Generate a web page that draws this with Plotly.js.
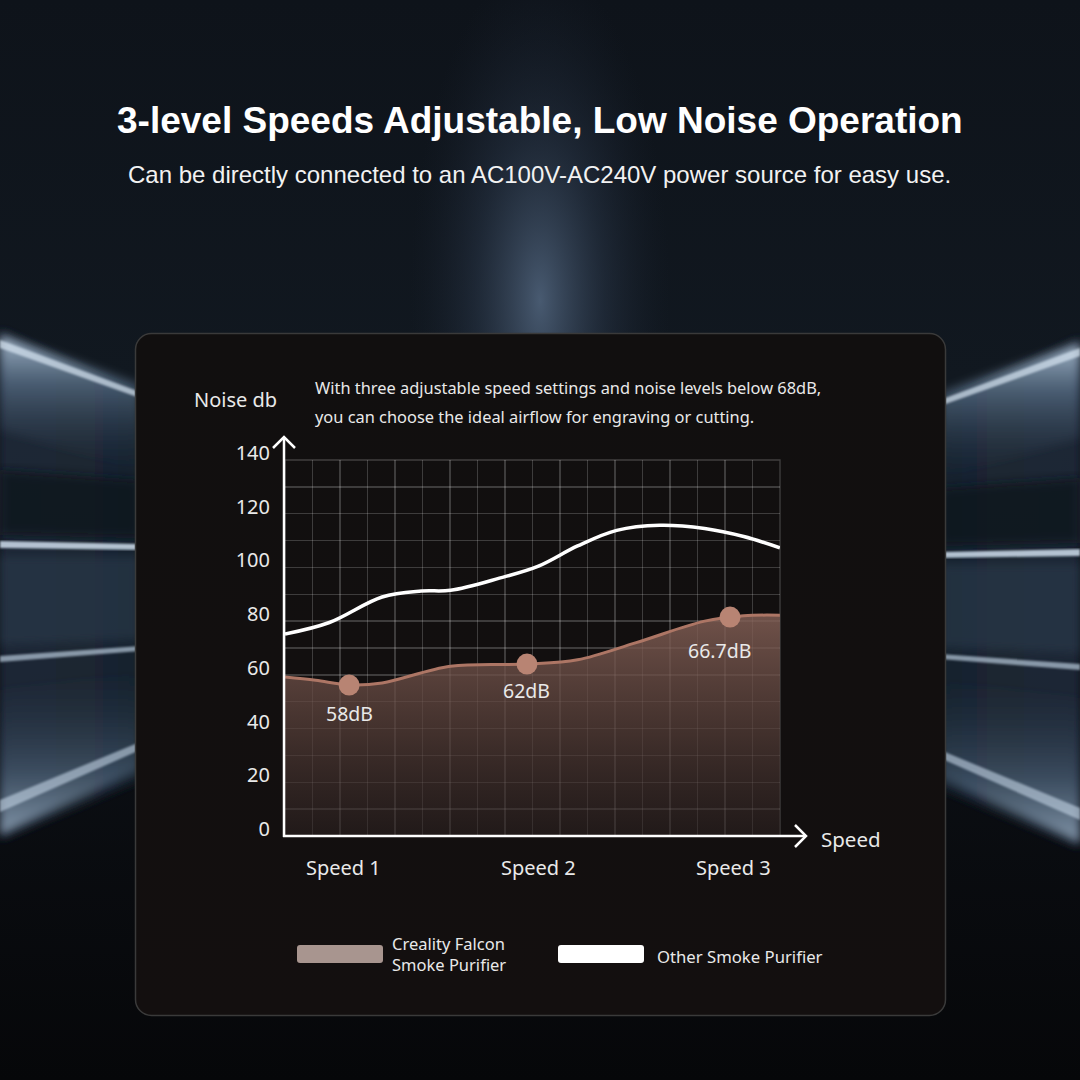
<!DOCTYPE html>
<html>
<head>
<meta charset="utf-8">
<script src="https://cdn.plot.ly/plotly-3.0.1.min.js"></script>
<style>
  html, body { margin:0; padding:0; width:1080px; height:1080px; overflow:hidden; background:#0b0e13; }
  #bg { position:absolute; left:0; top:0; width:1080px; height:1080px; }
  #chart { position:absolute; left:0; top:0; width:1080px; height:1080px; }
</style>
</head>
<body>
<svg id="bg" width="1080" height="1080" viewBox="0 0 1080 1080" xmlns="http://www.w3.org/2000/svg">
  <defs>
    <linearGradient id="base" x1="0" y1="0" x2="0" y2="1">
      <stop offset="0" stop-color="#0e131a"/>
      <stop offset="0.35" stop-color="#111820"/>
      <stop offset="0.7" stop-color="#0b0e13"/>
      <stop offset="1" stop-color="#060709"/>
    </linearGradient>
    <radialGradient id="glow" cx="540" cy="300" r="260" gradientUnits="userSpaceOnUse" gradientTransform="translate(540 300) scale(0.5 1.3) translate(-540 -300)">
      <stop offset="0" stop-color="#52667f" stop-opacity="0.85"/>
      <stop offset="0.5" stop-color="#2e3c50" stop-opacity="0.45"/>
      <stop offset="1" stop-color="#1a2230" stop-opacity="0"/>
    </radialGradient>
    <linearGradient id="sideL" x1="0" y1="0" x2="1" y2="0">
      <stop offset="0" stop-color="#1d2938" stop-opacity="0.95"/>
      <stop offset="1" stop-color="#1a2431" stop-opacity="0.9"/>
    </linearGradient>
    <linearGradient id="wedge" x1="0" y1="0" x2="0" y2="1">
      <stop offset="0" stop-color="#b9cde0" stop-opacity="0.9"/>
      <stop offset="0.35" stop-color="#6f8aa5" stop-opacity="0.55"/>
      <stop offset="1" stop-color="#2a3a4c" stop-opacity="0"/>
    </linearGradient>
    <linearGradient id="wedgeLow" x1="0" y1="1" x2="0" y2="0">
      <stop offset="0" stop-color="#a9bfd4" stop-opacity="0.75"/>
      <stop offset="0.4" stop-color="#5f7891" stop-opacity="0.45"/>
      <stop offset="1" stop-color="#2a3a4c" stop-opacity="0"/>
    </linearGradient>
    <linearGradient id="panelFill" x1="0" y1="0" x2="0" y2="1">
      <stop offset="0" stop-color="#110f0f"/>
      <stop offset="1" stop-color="#130f0f"/>
    </linearGradient>
    <filter id="blur6"><feGaussianBlur stdDeviation="5"/></filter>
    <filter id="blur2"><feGaussianBlur stdDeviation="1.2"/></filter>
  </defs>
  <rect x="0" y="0" width="1080" height="1080" fill="url(#base)"/>
  <rect x="0" y="0" width="1080" height="340" fill="url(#glow)"/>
  <g>
    <polygon points="0,330 140,395 140,780 0,840" fill="url(#sideL)" filter="url(#blur6)"/>
    <polygon points="0,335 140,385 140,470 0,430" fill="url(#wedge)" filter="url(#blur6)"/>
    <polygon points="0,340 140,392 140,398 0,348" fill="#d6e4f1" opacity="0.7" filter="url(#blur2)"/>
    <polygon points="0,470 140,480 140,538 0,535" fill="#0e141c" opacity="0.8" filter="url(#blur6)"/>
    <polygon points="0,541 140,544 140,550 0,548" fill="#cfdeed" opacity="0.85" filter="url(#blur2)"/>
    <polygon points="0,556 140,556 140,640 0,645" fill="#2b3a4c" opacity="0.6" filter="url(#blur6)"/>
    <polygon points="0,656 140,646 140,651 0,662" fill="#b7c9da" opacity="0.7" filter="url(#blur2)"/>
    <polygon points="0,690 140,670 140,770 0,835" fill="url(#wedgeLow)" filter="url(#blur6)"/>
    <polygon points="0,800 140,742 140,750 0,812" fill="#c4d5e6" opacity="0.6" filter="url(#blur2)"/>
  </g>
  <g transform="translate(1080 8) scale(-1 1)">
    <polygon points="0,330 140,395 140,780 0,840" fill="url(#sideL)" filter="url(#blur6)"/>
    <polygon points="0,335 140,385 140,470 0,430" fill="url(#wedge)" filter="url(#blur6)"/>
    <polygon points="0,340 140,392 140,398 0,348" fill="#d6e4f1" opacity="0.7" filter="url(#blur2)"/>
    <polygon points="0,470 140,480 140,538 0,535" fill="#0e141c" opacity="0.8" filter="url(#blur6)"/>
    <polygon points="0,541 140,544 140,550 0,548" fill="#cfdeed" opacity="0.85" filter="url(#blur2)"/>
    <polygon points="0,556 140,556 140,640 0,645" fill="#2b3a4c" opacity="0.6" filter="url(#blur6)"/>
    <polygon points="0,656 140,646 140,651 0,662" fill="#b7c9da" opacity="0.7" filter="url(#blur2)"/>
    <polygon points="0,690 140,670 140,770 0,835" fill="url(#wedgeLow)" filter="url(#blur6)"/>
    <polygon points="0,800 140,742 140,750 0,812" fill="#c4d5e6" opacity="0.6" filter="url(#blur2)"/>
  </g>
  <rect x="135.5" y="333.5" width="810" height="682" rx="16" ry="16" fill="url(#panelFill)" stroke="#3a3a3a" stroke-width="1.5"/>
</svg>
<div id="chart"></div>
<script>
// ---- data ----
const speedLabels = ["Speed 1", "Speed 2", "Speed 3"];
const speedPositions = [1, 2, 3];

const yTickValues = [0, 20, 40, 60, 80, 100, 120, 140];

// Creality Falcon Smoke Purifier curve (noise dB vs speed)
const falconX = [0.703, 0.86, 1.031, 1.2, 1.55, 1.94, 2.2, 2.5, 2.85, 3.05, 3.235];
const falconY = [59.2, 58.0, 56.3, 57.0, 63.2, 64.0, 65.6, 72.0, 80.0, 82.0, 82.2];

// Other Smoke Purifier curve
const otherX = [0.703, 0.93, 1.2, 1.4, 1.55, 1.8, 2.0, 2.2, 2.4, 2.62, 2.85, 3.05, 3.235];
const otherY = [75.2, 79.5, 89.0, 91.2, 91.5, 96.0, 100.5, 108.0, 113.8, 115.7, 114.5, 111.5, 107.3];

// Highlighted measurement points
const pointX = [1.031, 1.941, 2.980];
const pointY = [56.2, 64.0, 81.5];
const pointLabels = ["58dB", "62dB", "66.7dB"];

const legendNames = ["Creality Falcon<br>Smoke Purifier", "Other Smoke Purifier"];

const titleText = "3-level Speeds Adjustable, Low Noise Operation";
const subtitleText = "Can be directly connected to an AC100V-AC240V power source for easy use.";
const noteLines = ["With three adjustable speed settings and noise levels below 68dB,",
                   "you can choose the ideal airflow for engraving or cutting."];
const yTitle = "Noise db";
const xTitle = "Speed";

// ---- geometry helpers (pixel -> paper) ----
const L = 285, R = 780, T = 460, B = 836;
const PX = p => (p - L) / (R - L);
const PY = p => (B - p) / (B - T);

const xMin = 0.703, xStep = 0.1407, xMax = xMin + 18 * xStep;

const font = "Noto Sans, Open Sans, sans-serif";
const txt = "#e9e9e9";

const traces = [
  {
    x: falconX, y: falconY, type: "scatter", mode: "lines",
    line: { color: "#ad7665", width: 3, shape: "spline", smoothing: 1 },
    fill: "tozeroy",
    fillcolor: "rgba(120,88,78,0.6)",
    fillgradient: { type: "vertical", start: 0, stop: 82,
      colorscale: [[0, "rgba(45,34,33,0.55)"], [0.5, "rgba(88,64,58,0.72)"], [1, "rgba(132,96,86,0.82)"]] },
    hoverinfo: "skip", showlegend: false
  },
  {
    x: otherX, y: otherY, type: "scatter", mode: "lines",
    line: { color: "#ffffff", width: 3.5, shape: "spline", smoothing: 1 },
    hoverinfo: "skip", showlegend: false
  },
  {
    x: pointX, y: pointY, type: "scatter", mode: "markers",
    marker: { size: 21, color: "#b88473" },
    hoverinfo: "skip", showlegend: false
  }
];

const annotations = [];
annotations.push({ xref: "paper", yref: "paper", x: PX(540), y: PY(120), text: "<b>" + titleText + "</b>",
  showarrow: false, xanchor: "center", yanchor: "middle",
  font: { family: "Liberation Sans, Arial, sans-serif", size: 37, color: "#ffffff" } });
annotations.push({ xref: "paper", yref: "paper", x: PX(539), y: PY(175), text: subtitleText,
  showarrow: false, xanchor: "center", yanchor: "middle",
  font: { family: "Liberation Sans, Arial, sans-serif", size: 24, color: "#f2f2f2" } });
annotations.push({ xref: "paper", yref: "paper", x: PX(313), y: PY(387), text: noteLines[0],
  showarrow: false, xanchor: "left", yanchor: "middle", font: { family: font, size: 16.4, color: txt } });
annotations.push({ xref: "paper", yref: "paper", x: PX(313), y: PY(416), text: noteLines[1],
  showarrow: false, xanchor: "left", yanchor: "middle", font: { family: font, size: 16.4, color: txt } });
annotations.push({ xref: "paper", yref: "paper", x: PX(235), y: PY(399), text: yTitle,
  showarrow: false, xanchor: "center", yanchor: "middle", font: { family: font, size: 20, color: txt } });
annotations.push({ xref: "paper", yref: "paper", x: PX(819), y: PY(839), text: xTitle,
  showarrow: false, xanchor: "left", yanchor: "middle", font: { family: font, size: 20.5, color: txt } });
speedLabels.forEach((s, i) => {
  annotations.push({ xref: "x", yref: "paper", x: speedPositions[i], y: 0, yshift: -31, text: s,
    showarrow: false, xanchor: "center", yanchor: "middle", font: { family: font, size: 20, color: txt } });
});
const labelShift = [[0, -28], [0, -26], [-11, -33]];
pointLabels.forEach((s, i) => {
  annotations.push({ xref: "x", yref: "y", x: pointX[i], y: pointY[i], xshift: labelShift[i][0], yshift: labelShift[i][1],
    text: s, showarrow: false, xanchor: "center", yanchor: "middle", font: { family: font, size: 19.5, color: txt } });
});
annotations.push({ xref: "paper", yref: "paper", x: PX(390), y: PY(954), text: legendNames[0],
  showarrow: false, xanchor: "left", yanchor: "middle", align: "left",
  font: { family: font, size: 16.5, color: txt } });
annotations.push({ xref: "paper", yref: "paper", x: PX(655), y: PY(956), text: legendNames[1],
  showarrow: false, xanchor: "left", yanchor: "middle", font: { family: font, size: 16.7, color: txt } });

function pathP(pts) {
  return "M" + pts.map(p => PX(p[0]) + "," + PY(p[1])).join(" L");
}
function rrect(x0, y0, x1, y1, r) {
  const a = (x, y) => PX(x) + "," + PY(y);
  return "M" + a(x0 + r, y0) + " L" + a(x1 - r, y0) + " Q" + a(x1, y0) + " " + a(x1, y0 + r) +
    " L" + a(x1, y1 - r) + " Q" + a(x1, y1) + " " + a(x1 - r, y1) +
    " L" + a(x0 + r, y1) + " Q" + a(x0, y1) + " " + a(x0, y1 - r) +
    " L" + a(x0, y0 + r) + " Q" + a(x0, y0) + " " + a(x0 + r, y0) + " Z";
}

const axisLine = { color: "#ffffff", width: 2.5 };
const shapes = [
  { type: "rect", xref: "paper", yref: "paper", x0: 0, x1: 1, y0: 0, y1: 1, layer: "below",
    line: { color: "rgba(255,255,255,0.2)", width: 1.3 } },
  { type: "path", xref: "paper", yref: "paper", path: pathP([[284, 837], [284, 437]]), line: axisLine, layer: "above" },
  { type: "path", xref: "paper", yref: "paper", path: pathP([[273, 448], [284, 437], [295, 448]]), line: axisLine, layer: "above" },
  { type: "path", xref: "paper", yref: "paper", path: pathP([[283, 836], [806, 836]]), line: axisLine, layer: "above" },
  { type: "path", xref: "paper", yref: "paper", path: pathP([[795, 825], [806, 836], [795, 847]]), line: axisLine, layer: "above" },
  { type: "path", xref: "paper", yref: "paper", path: rrect(297, 945, 383, 963, 3), fillcolor: "#a8958f",
    line: { width: 0 }, layer: "above" },
  { type: "path", xref: "paper", yref: "paper", path: rrect(558, 945, 644, 963, 3), fillcolor: "#ffffff",
    line: { width: 0 }, layer: "above" }
];

const gridColor = "rgba(255,255,255,0.19)";
const layout = {
  width: 1080, height: 1080,
  margin: { l: L, r: 1080 - R, t: T, b: 1080 - B, pad: 0 },
  paper_bgcolor: "rgba(0,0,0,0)", plot_bgcolor: "rgba(0,0,0,0)",
  showlegend: false,
  xaxis: {
    range: [xMin, xMax], tickmode: "linear", tick0: xMin, dtick: xStep,
    showticklabels: false, ticks: "", showgrid: true, gridcolor: gridColor, gridwidth: 1.3,
    zeroline: false, showline: false, fixedrange: true
  },
  yaxis: {
    range: [0, 140], tickmode: "array", tickvals: yTickValues, ticktext: yTickValues.map(String),
    ticks: "", showgrid: false,
    minor: { tickmode: "linear", dtick: 10, tick0: 0, showgrid: true, gridcolor: gridColor, gridwidth: 1.3, ticks: "" },
    ticklabelshift: -7, ticklabelstandoff: 14,
    tickfont: { family: font, size: 20, color: txt },
    zeroline: false, showline: false, fixedrange: true
  },
  shapes: shapes,
  annotations: annotations
};

Plotly.newPlot("chart", traces, layout, { displayModeBar: false, staticPlot: true });
</script>
</body>
</html>
